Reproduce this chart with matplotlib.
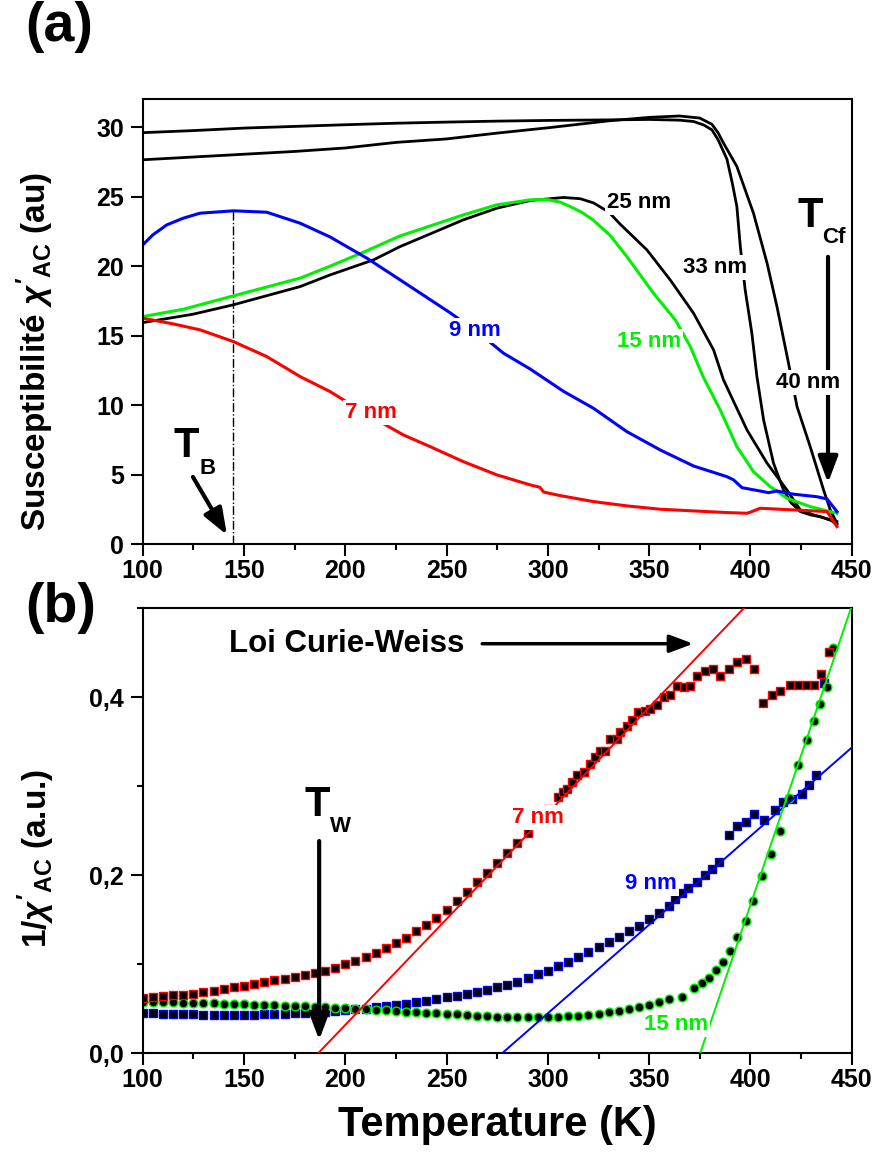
import matplotlib
matplotlib.use("Agg")
import matplotlib.pyplot as plt
from matplotlib.ticker import MultipleLocator, FuncFormatter

plt.rcParams['font.family'] = ['Liberation Sans', 'DejaVu Sans']
plt.rcParams['font.weight'] = 'bold'
plt.rcParams['mathtext.fontset'] = 'custom'
plt.rcParams['mathtext.rm'] = 'Liberation Sans:bold'
plt.rcParams['mathtext.bf'] = 'Liberation Sans:bold'
plt.rcParams['mathtext.it'] = 'Liberation Sans:italic'

# ---- panel (a): chi'_AC vs T ----
T_7a = [100, 115, 128.3, 144.7, 161.2, 177.7, 192.5, 210, 228.7, 241.9, 258.3, 274.8, 291.3,
        296, 298, 306.1, 322.5, 339, 355.5, 371.9, 388.4, 398.3, 400.7, 404.8, 421.3, 437.8, 442.7]
chi_7a = [16.26, 15.85, 15.42, 14.58, 13.5, 12.06, 10.98, 9.4, 7.86, 7.02, 5.94, 4.99, 4.27,
          4.1, 3.75, 3.5, 3.07, 2.76, 2.52, 2.40, 2.28, 2.23, 2.35, 2.59, 2.47, 2.35, 1.27]

T_9a = [100, 105, 111.9, 120, 128.3, 144.7, 161.2, 177.7, 192.5, 210.6, 227.1, 250.9, 265, 278.1,
        291.3, 307.7, 322.5, 339, 355.5, 371.9, 388.4, 391.7, 395.8, 404.8, 408.9, 413.1, 421.3,
        432.8, 437.8, 442.7]
chi_9a = [21.53, 22.25, 22.97, 23.45, 23.81, 23.98, 23.88, 23.09, 22.1, 20.58, 19.01, 16.73, 15.3,
          13.74, 12.6, 11.0, 9.78, 8.1, 6.78, 5.63, 4.86, 4.63, 4.07, 3.83, 3.71, 3.83, 3.6,
          3.42, 3.26, 2.35]

T_15a = [100, 120, 144.7, 177.7, 192.5, 208.9, 227.1, 233.6, 258.3, 274.8, 291.3, 299.5, 306.1,
         311, 317, 322.5, 330.8, 339, 352.1, 362.9, 370.3, 376.8, 385.1, 393.3, 401.5, 409.8, 418,
         429.5, 437.8, 442.7]
chi_15a = [16.37, 16.9, 17.86, 19.14, 20.0, 21.0, 22.18, 22.49, 23.69, 24.41, 24.77, 24.8, 24.6,
           24.29, 23.85, 23.3, 22.2, 20.69, 18.06, 16.14, 14.22, 12.0, 9.66, 7.02, 5.22, 4.14, 3.31,
           2.71, 2.40, 2.23]

T_25a = [100, 125, 144.7, 177.7, 192.5, 213.9, 227.1, 258.3, 274.8, 291.3, 307.7, 316, 322.5,
         330, 335.7, 348.9, 360.4, 371.9, 381.8, 386.7, 398.3, 408.2, 418, 424.6, 431.2, 442.7]
chi_25a = [15.94, 16.55, 17.22, 18.53, 19.37, 20.45, 21.41, 23.33, 24.17, 24.72, 24.94, 24.85,
           24.55, 23.9, 23.02, 21.17, 19.01, 16.62, 13.98, 11.82, 8.22, 5.83, 3.91, 2.47, 2.11, 1.63]

T_33a = [100, 125, 150, 175, 200, 225, 250, 275, 300, 330, 350, 365, 372, 377, 381, 384, 388.4,
         391, 393.3, 395, 397.4, 400.7, 403.2, 406.5, 411.4, 416.3, 420, 424.6, 430, 434.5, 440,
         442.7]
chi_33a = [29.6, 29.75, 29.93, 30.05, 30.17, 30.28, 30.36, 30.43, 30.48, 30.52, 30.55, 30.5, 30.4,
           30.15, 29.8, 29.1, 27.7, 26.0, 24.29, 21.41, 18.3, 15.18, 12.06, 8.94, 5.83, 3.91, 3.0,
           2.35, 2.1, 1.99, 1.7, 1.39]

T_40a = [100, 125, 150, 175, 200, 225, 250, 275, 300, 330, 350, 365, 375, 381, 384, 386.7, 393.3,
         401.5, 408.2, 413.1, 418.8, 423, 429.5, 436.1, 439.4, 442.7]
chi_40a = [27.65, 27.85, 28.05, 28.25, 28.5, 28.9, 29.15, 29.57, 29.95, 30.45, 30.7, 30.8, 30.65,
           30.2, 29.6, 28.85, 27.17, 23.81, 20.22, 17.09, 13.02, 9.9, 7.02, 3.91, 2.47, 1.51]

# ---- panel (b): 1/chi'_AC vs T ----
T_7b = [100, 105, 110, 115, 120, 125, 130, 135, 140, 145, 150, 155, 160, 165, 170, 175, 180, 185,
        190, 195, 200, 205, 210, 215, 220, 225, 230, 235, 240, 245, 250, 255, 260, 265, 270, 275,
        280, 285, 290, 295, 300, 305,
        307.7, 309.4, 311.9, 314.3, 317.6, 320.9, 323.4, 325.8, 328.3, 330.8, 334.1, 335.7, 339.0,
        341.5, 344.7, 348.0, 350.5, 353.8, 357.1, 360.4, 363.7, 367.0, 370.3, 373.6, 377.7, 381.5,
        385.1, 389.2, 393.3, 397.8, 402.0, 406.0, 410.6, 414.7, 419.3, 423.5, 427.4, 431.2, 434.8,
        438.6]
inv_7b = [0.062, 0.063, 0.064, 0.065, 0.066, 0.067, 0.069, 0.070, 0.072, 0.074, 0.076, 0.078,
          0.080, 0.082, 0.084, 0.086, 0.088, 0.090, 0.093, 0.096, 0.100, 0.104, 0.108, 0.113,
          0.118, 0.124, 0.130, 0.137, 0.144, 0.152, 0.161, 0.171, 0.181, 0.192, 0.203, 0.214,
          0.225, 0.236, 0.247, 0.260, 0.274, 0.288,
          0.2934, 0.2972, 0.3047, 0.3122, 0.3159, 0.3253, 0.3327, 0.3402, 0.3402, 0.3533, 0.3533,
          0.3608, 0.3683, 0.3746, 0.384, 0.385, 0.387, 0.3918, 0.400, 0.403, 0.413, 0.412, 0.413,
          0.4243, 0.429, 0.4318, 0.4243, 0.4318, 0.440, 0.443, 0.4318, 0.3937, 0.403, 0.4067,
          0.4142, 0.4142, 0.4142, 0.4142, 0.4262, 0.4505]

T_9b = [100, 105, 110, 115, 120, 125, 130, 135, 140, 145, 150, 155, 160, 165, 170, 175, 180, 185,
        190, 195, 200, 205, 210, 215, 220, 225, 230, 235, 240, 245, 250, 255, 260, 265, 270, 275,
        280, 285, 290, 295, 300, 305, 310, 315, 320, 325, 330, 335, 340, 345, 350, 355, 360,
        362.9, 366.2, 369.4, 373.6, 377.7, 381.0, 384.7, 389.2, 393.3, 397.9, 402.0, 406.5, 412.2,
        416.0, 420.5, 425.4, 428.7, 432.5, 436.1]
inv_9b = [0.0450, 0.0447, 0.0444, 0.0441, 0.0438, 0.0436, 0.0435, 0.0434, 0.0433, 0.0433, 0.0434,
          0.0435, 0.0437, 0.0440, 0.0443, 0.0447, 0.0452, 0.0458, 0.0465, 0.0473, 0.0482, 0.0492,
          0.0503, 0.0515, 0.0528, 0.0542, 0.0557, 0.0573, 0.0590, 0.0608, 0.0627, 0.0647, 0.0668,
          0.0690, 0.0713, 0.0740, 0.0770, 0.0805, 0.0845, 0.0888, 0.0930, 0.0980, 0.1030, 0.1085,
          0.1140, 0.1190, 0.1245, 0.1305, 0.1370, 0.1435, 0.1505, 0.1580, 0.1660,
          0.1739, 0.1802, 0.1862, 0.1925, 0.200, 0.2075, 0.2149, 0.2456, 0.2550, 0.2598, 0.2692,
          0.2617, 0.2737, 0.2822, 0.286, 0.2916, 0.3017, 0.3130, 0.4157]

T_15b = [100, 105, 110, 115, 120, 125, 130, 135, 140, 145, 150, 155, 160, 165, 170, 175, 180, 185,
         190, 195, 200, 205, 210, 215, 220, 225, 230, 235, 240, 245, 250, 255, 260, 265, 270, 275,
         280, 285, 290, 295, 300, 305, 310, 315, 320, 325, 330, 335, 340, 345, 350, 355, 360,
         366.2, 371.9, 376.0, 379.3, 383.1, 386.4, 389.7, 393.6, 397.8, 401.5, 405.7, 410.1, 414.7,
         419.1, 423.5, 427.9, 431.2, 434.5, 437.8, 441.0]
inv_15b = [0.0580, 0.0578, 0.0575, 0.0572, 0.0569, 0.0566, 0.0563, 0.0560, 0.0557, 0.0554, 0.0551,
           0.0547, 0.0543, 0.0539, 0.0535, 0.0530, 0.0526, 0.0521, 0.0516, 0.0511, 0.0505, 0.0499,
           0.0493, 0.0487, 0.0481, 0.0475, 0.0469, 0.0463, 0.0457, 0.0451, 0.0445, 0.0438, 0.0431,
           0.0424, 0.0418, 0.0413, 0.0410, 0.0408, 0.0407, 0.0407, 0.0408, 0.0411, 0.0415, 0.0422,
           0.0432, 0.0446, 0.0463, 0.0480, 0.0498, 0.0520, 0.0545, 0.0575, 0.0605,
           0.0635, 0.0729, 0.0785, 0.0841, 0.0934, 0.1028, 0.1151, 0.1301, 0.1488, 0.1712, 0.1989,
           0.2243, 0.2494, 0.287, 0.3242, 0.3522, 0.3739, 0.3926, 0.412, 0.455]

# Curie-Weiss fits: intercept temperature and slope
cw_T0 = [186.6, 277.4, 375.2]
cw_slope = [0.00238, 0.00199, 0.00672]

RED, BLUE, GREEN = '#ff0000', '#0000ff', '#00f000'
cw_colors = [RED, BLUE, GREEN]

fig = plt.figure(figsize=(8.75, 11.6), dpi=100)
ax_a = fig.add_axes([0.1631, 0.5308, 0.8103, 0.3836])
ax_b = fig.add_axes([0.1631, 0.0920, 0.8103, 0.3836])


def style_axes(ax):
    for s in ax.spines.values():
        s.set_linewidth(1.5)
    ax.tick_params(which='major', direction='out', length=8.5, width=1.5, labelsize=18)
    ax.tick_params(which='minor', direction='out', length=4.3, width=1.5)
    ax.tick_params(axis='x', pad=2)
    ax.tick_params(axis='y', pad=5)
    ax.set_xlim(100, 450)
    ax.xaxis.set_major_locator(MultipleLocator(50))
    ax.xaxis.set_minor_locator(MultipleLocator(25))


def nm_label(ax, x, y, s, color, size=16):
    ax.text(x, y, s, color=color, fontsize=size, fontweight='bold', ha='center', va='center',
            zorder=6, bbox=dict(facecolor='white', edgecolor='none', pad=1.5))


def arrow(ax, tail, tip, lw=3, scale=20):
    ax.annotate('', xy=tip, xytext=tail, zorder=4,
                arrowprops=dict(arrowstyle='-|>,head_length=0.8,head_width=0.3', lw=lw,
                                color='k', shrinkA=0, shrinkB=0, mutation_scale=scale))


# ---------- (a) ----------
style_axes(ax_a)
ax_a.set_ylim(0, 32)
ax_a.yaxis.set_major_locator(MultipleLocator(5))

ax_a.plot(T_33a, chi_33a, color='k', lw=2, zorder=2)
ax_a.plot(T_40a, chi_40a, color='k', lw=2, zorder=2)
ax_a.plot(T_25a, chi_25a, color='k', lw=2, zorder=2)
ax_a.plot(T_15a, chi_15a, color=GREEN, lw=2.2, zorder=2)
ax_a.plot(T_9a, chi_9a, color=BLUE, lw=2.2, zorder=2)
ax_a.plot(T_7a, chi_7a, color=RED, lw=2.2, zorder=2)

ax_a.plot([144.7, 144.7], [0, 23.95], color='k', lw=1, ls='-.', zorder=1)

nm_label(ax_a, 345.1, 24.55, '25 nm', 'k')
nm_label(ax_a, 382.6, 19.88, '33 nm', 'k')
nm_label(ax_a, 428.5, 11.6, '40 nm', 'k')
nm_label(ax_a, 350.0, 14.55, '15 nm', GREEN)
nm_label(ax_a, 263.9, 15.35, '9 nm', BLUE)
nm_label(ax_a, 212.7, 9.45, '7 nm', RED)

ax_a.text(121.6, 7.07, 'T', fontsize=30, ha='center', va='center')
ax_a.text(131.8, 5.42, 'B', fontsize=16, ha='center', va='center')
arrow(ax_a, (124.8, 4.84), (141.6, 0.67))

ax_a.text(429.3, 23.63, 'T', fontsize=30, ha='center', va='center')
ax_a.text(441.4, 22.07, 'Cf', fontsize=16, ha='center', va='center')
arrow(ax_a, (438.3, 20.67), (438.3, 4.41))

# ---------- (b) ----------
style_axes(ax_b)
ax_b.set_ylim(0, 0.5)
ax_b.yaxis.set_major_locator(MultipleLocator(0.2))
ax_b.yaxis.set_minor_locator(MultipleLocator(0.1))
ax_b.yaxis.set_major_formatter(FuncFormatter(lambda v, p: f'{v:.1f}'.replace('.', ',')))

ax_b.plot(T_9b, inv_9b, ls='none', marker='s', ms=6, mfc='k', mec=BLUE, mew=1, zorder=2)
ax_b.plot(T_15b, inv_15b, ls='none', marker='o', ms=6.3, mfc='k', mec=GREEN, mew=1, zorder=2)
ax_b.plot(T_7b, inv_7b, ls='none', marker='s', ms=6, mfc='k', mec=RED, mew=1, zorder=2)

for T0, k, c in zip(cw_T0, cw_slope, cw_colors):
    ax_b.plot([T0, 450], [0, k * (450 - T0)], color=c, lw=1.4, zorder=3)

nm_label(ax_b, 295.0, 0.265, '7 nm', RED)
nm_label(ax_b, 351.0, 0.191, '9 nm', BLUE)
nm_label(ax_b, 363.4, 0.0329, '15 nm', GREEN)

ax_b.text(142.8, 0.4505, 'Loi Curie-Weiss', fontsize=22.5, ha='left', va='baseline')
arrow(ax_b, (267.6, 0.4602), (371.8, 0.4602), lw=2.5, scale=18)

ax_b.text(186.1, 0.2786, 'T', fontsize=30, ha='center', va='center')
ax_b.text(197.6, 0.255, 'W', fontsize=16, ha='center', va='center')
arrow(ax_b, (187.1, 0.2385), (187.1, 0.0149))

# ---------- figure texts ----------
fig.text(35 / 875, 1 - 351 / 1160, "Susceptibilité $\\chi'_{\\mathrm{AC}}$ (au)",
         rotation=90, fontsize=24, ha='center', va='center')
fig.text(36 / 875, 1 - 858 / 1160, "1/$\\chi'_{\\mathrm{AC}}$ (a.u.)",
         rotation=90, fontsize=24, ha='center', va='center')
fig.text(497 / 875, 1 - 1125 / 1160, 'Temperature (K)', fontsize=30, ha='center', va='center')
fig.text(25 / 875, 1 - 27 / 1160, '(a)', fontsize=40, ha='left', va='center')
fig.text(25 / 875, 1 - 608 / 1160, '(b)', fontsize=40, ha='left', va='center')

fig.savefig('out.png', dpi=100)
